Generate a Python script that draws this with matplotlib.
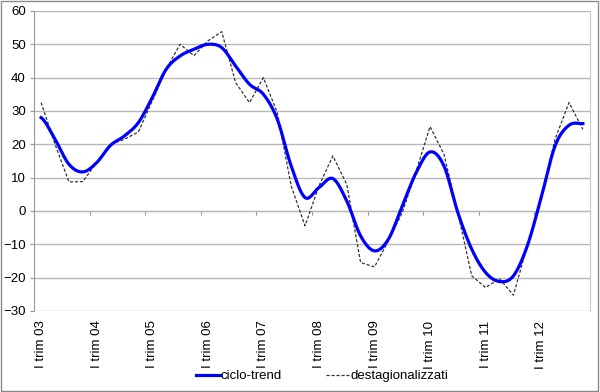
import numpy as np
import matplotlib
matplotlib.use("Agg")
import matplotlib.pyplot as plt
from matplotlib.patches import Rectangle

# quarterly data, I trim 2003 .. IV trim 2012
ciclo_trend = [28, 21.5, 14, 11.7, 14.5, 19.7, 22.5, 26.5,
               34, 42.5, 46.5, 48.5, 50, 49, 43.5, 38,
               35, 27.5, 13.5, 4, 7, 9.7, 3, -7.5,
               -12, -8.5, 1.5, 11.5, 17.7, 13.5, -0.5, -11.5,
               -18.5, -21.2, -19.5, -10.5, 4, 19.5, 25.7, 26.2]
destag = [32.5, 20, 8.7, 8.8, 14.5, 20, 21.5, 23.7,
          33, 42.5, 50, 46.6, 51, 53.8, 38.5, 32.5,
          40, 29.5, 7.5, -4.5, 7.5, 16.5, 8, -15.5,
          -16.8, -9, -0.5, 12, 25.3, 17, -0.5, -19.5,
          -23, -20.3, -25.3, -10.5, 4, 21.5, 32.5, 24.5]
years = ["03", "04", "05", "06", "07", "08", "09", "10", "11", "12"]
tick_labels = ["I trim " + y for y in years]


def catmull_rom(y, n=20):
    # smooth curve through the points, like the spreadsheet "smoothed line"
    y = np.asarray(y, float)
    p = np.concatenate([[y[0]], y, [y[-1]]])
    xs, ys = [], []
    for i in range(len(y) - 1):
        p0, p1, p2, p3 = p[i], p[i + 1], p[i + 2], p[i + 3]
        t = np.linspace(0, 1, n, endpoint=False)
        yy = 0.5 * ((2 * p1) + (-p0 + p2) * t + (2 * p0 - 5 * p1 + 4 * p2 - p3) * t ** 2
                    + (-p0 + 3 * p1 - 3 * p2 + p3) * t ** 3)
        xs.append(i + t)
        ys.append(yy)
    xs.append([len(y) - 1])
    ys.append([y[-1]])
    return np.concatenate(xs), np.concatenate(ys)


plt.rcParams['font.family'] = ['Liberation Sans', 'DejaVu Sans']

fig = plt.figure(figsize=(6, 3.92), dpi=100)
ax = fig.add_axes([0.057, 0.207, 0.926, 0.765])

x = np.arange(len(destag))
sx, sy = catmull_rom(ciclo_trend)
ax.plot(sx, sy, color='#0000ff', lw=2.3, label='ciclo-trend', zorder=3)
ax.plot(x, destag, color='#333333', lw=0.9, ls=(0, (2.5, 1.5)), label='destagionalizzati', zorder=2)

ax.set_xlim(-0.5, len(destag) - 0.5)
ax.set_ylim(-30, 60)
ax.set_yticks(range(-30, 61, 10))
ax.yaxis.grid(True, color='#b8b8b8', lw=1)
ax.set_axisbelow(True)
ax.tick_params(axis='y', labelsize=9.5, length=3, color='#999999', pad=3)

ax.set_xticks(x[::4])
ax.set_xticklabels(tick_labels, rotation=90, fontsize=9.5)
ax.tick_params(axis='x', length=0, pad=7)

# category axis crossing at zero, with ticks every four quarters
sec = ax.secondary_xaxis(1 / 3)
sec.set_xticks(np.arange(-0.5, len(destag), 4))
sec.set_xticklabels([])
sec.tick_params(length=3, color='#999999', direction='out')
sec.spines['bottom'].set_color('#999999')

for side in ['top', 'bottom']:
    ax.spines[side].set_visible(False)
ax.spines['left'].set_color('#999999')
ax.spines['right'].set_color('#c8c8c8')

fig.legend(loc='center', bbox_to_anchor=(0.537, 0.04), ncol=2, frameon=False,
           fontsize=9.5, handlelength=1.8, columnspacing=3.3, handletextpad=0.1)

fig.patches.append(Rectangle((0.002, 0.002), 0.995, 0.995, transform=fig.transFigure,
                             fill=False, edgecolor='#8a8a8a', lw=1))

fig.savefig('out.png', dpi=100)
